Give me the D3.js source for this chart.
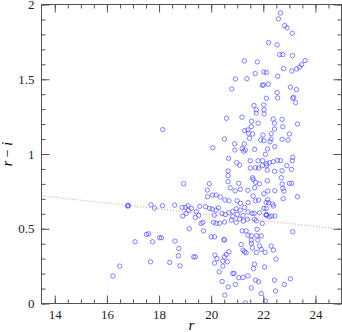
<!DOCTYPE html>
<html>
<head>
<meta charset="utf-8">
<script src="https://cdn.jsdelivr.net/npm/d3@7"></script>
<style>
body { margin: 0; background: #fff; }
svg { display: block; }
svg text { font-family: "Liberation Serif", "DejaVu Serif", serif; }
</style>
</head>
<body>
<svg id="chart" width="342" height="332"></svg>
<script>
// tick values
var xMajor = [14, 16, 18, 20, 22, 24];
var yMajor = [0, 0.5, 1, 1.5, 2];

// dotted fit line, [r, r-i] at the two ends
var fitLine = [[13.5, 0.72], [25, 0.496]];

// stars, [r, r-i]
var brightStars = [
  [16.81,0.654],[16.82,0.656],[16.80,0.652],
  [17.69,0.660],[17.83,0.638],[18.13,0.654],[17.52,0.462],[17.60,0.466],[17.08,0.413],
  [17.75,0.413],[18.02,0.440],[18.09,0.440],[17.67,0.279],[16.49,0.250],[16.23,0.185],
  [18.14,1.163],[18.41,0.275],[18.60,0.658],[18.61,0.417],[18.76,0.368],[18.80,0.252],
  [18.74,0.319]
];

var redStars = [
  [22.66,1.944],[22.58,1.904],[22.82,1.859],[22.91,1.844],[23.11,1.808],[22.20,1.745],
  [22.53,1.730],[22.63,1.665],[22.75,1.665],[23.12,1.658],[21.27,1.623],[21.77,1.616],
  [23.60,1.625],[23.47,1.598],[23.39,1.581],[23.28,1.569],[22.78,1.571],[23.09,1.556],
  [22.02,1.549],[22.12,1.545],[21.69,1.538],[22.55,1.520],[20.93,1.502],[21.37,1.504],
  [21.96,1.460],[22.01,1.462],[22.19,1.467],[20.79,1.435],[23.04,1.447],[23.27,1.431],
  [22.53,1.411],[22.12,1.373],[22.55,1.375],[23.13,1.373],[23.16,1.380],[23.24,1.344],
  [21.64,1.324],[21.73,1.295],[21.73,1.273],[22.02,1.328],[22.03,1.295],[22.03,1.268],
  [20.59,1.239],[21.18,1.246],[22.38,1.234],[22.72,1.232],[21.55,1.219],[21.80,1.206],
  [22.43,1.206],[23.31,1.201],[22.75,1.183],[21.54,1.183],[21.28,1.156],[21.41,1.161],
  [22.43,1.167],[21.43,1.139],[21.59,1.134],[22.30,1.136],[21.99,1.127],[23.00,1.134],
  [21.47,1.105],[21.90,1.094],[22.02,1.089],[22.26,1.082],[22.30,1.100],[22.72,1.098],
  [22.95,1.094],[20.51,1.100],[20.90,1.069],[21.27,1.067],[22.44,1.049],[21.19,1.036],
  [21.24,1.018],[21.31,1.027],[20.91,1.027],[21.67,1.031],[22.16,1.034],[22.08,0.998],
  [20.06,1.042]
];

var midStars = [
  [20.67,0.971],[21.50,0.955],[20.98,0.942],[21.09,0.926],[21.80,0.955],[21.97,0.955],
  [22.12,0.935],[22.24,0.942],[22.38,0.948],[22.54,0.958],[22.66,0.956],[23.13,0.978],
  [23.11,0.955],[22.90,0.922],[22.72,0.888],[23.08,0.897],[22.43,0.884],[21.50,0.906],
  [21.70,0.908],[21.82,0.906],[21.96,0.922],[22.13,0.922],[22.15,0.893],[20.65,0.886],
  [20.65,0.855],[21.59,0.841],[21.61,0.830],[21.70,0.810],[21.67,0.774],[21.85,0.801],
  [22.15,0.821],[22.44,0.754],[22.69,0.841],[22.72,0.799],[22.75,0.770],[23.00,0.804],
  [23.09,0.804],[23.31,0.714],[22.76,0.701],[21.06,0.804],[21.12,0.764],[20.65,0.815],
  [20.73,0.774],[20.92,0.754],[21.41,0.757],[21.61,0.719],[22.02,0.734],[22.17,0.694],
  [22.20,0.674],[22.36,0.665],[20.68,0.687],[20.53,0.692],[21.00,0.687],[21.12,0.670],
  [21.42,0.676],[21.82,0.692],[21.70,0.687],[22.11,0.676],[22.17,0.752],[22.79,0.752],
  [18.94,0.801],[19.93,0.801],[19.85,0.759],[19.86,0.714],[20.05,0.725],[20.19,0.725],
  [20.35,0.712]
];

var coreStars = [
  [18.89,0.643],[19.01,0.643],[19.11,0.654],[18.91,0.585],[19.04,0.603],[19.13,0.623],
  [19.24,0.636],[19.43,0.614],[19.56,0.650],[19.52,0.589],[19.79,0.647],[19.94,0.636],
  [20.04,0.630],[20.19,0.625],[20.12,0.591],[20.28,0.640],[20.42,0.603],[20.54,0.596],
  [20.68,0.607],[20.83,0.616],[20.96,0.634],[21.00,0.596],[21.11,0.625],[21.28,0.643],
  [21.41,0.612],[20.83,0.580],[21.22,0.589],[19.61,0.536],[19.68,0.543],[19.16,0.500],
  [19.71,0.486],[20.00,0.446],[20.13,0.446],[20.09,0.543],[20.19,0.536],[20.32,0.536],
  [19.39,0.576],[20.49,0.429],[20.51,0.545],[20.78,0.558],[20.96,0.543],[21.09,0.565],
  [21.24,0.551],[21.39,0.563],[21.19,0.486],[21.34,0.486],[21.41,0.457],
  [22.02,0.636],[22.11,0.636],[22.10,0.593],[22.13,0.595],[22.12,0.590],[21.57,0.603],
  [21.65,0.603],[21.85,0.607],[22.45,0.585],[22.23,0.580],[22.31,0.585],[21.73,0.553],
  [21.66,0.563],[21.96,0.536],[23.13,0.480],[21.54,0.453],[21.75,0.453],[21.92,0.453],
  [21.76,0.496],[22.39,0.652]
];

var blueStars = [
  [21.15,0.395],[21.22,0.357],[21.28,0.346],[21.34,0.339],[19.33,0.312],[19.39,0.312],
  [20.14,0.324],[20.22,0.301],[20.31,0.212],[20.13,0.270],[20.45,0.283],[20.62,0.279],
  [20.45,0.250],[20.42,0.147],[20.52,0.056],[20.65,0.111],[20.83,0.201],[20.88,0.201],
  [21.06,0.173],[21.22,0.174],[21.41,0.185],[21.31,0.004],[20.93,0.127],[20.68,0.346],
  [20.58,0.328],[20.51,0.312],[20.51,0.424],
  [21.79,0.424],[21.54,0.424],[21.54,0.402],[21.58,0.372],[21.86,0.384],[21.73,0.342],
  [22.07,0.342],[21.92,0.362],[22.30,0.384],[22.39,0.357],[22.49,0.297],[21.66,0.263],
  [21.62,0.234],[22.05,0.245],[21.70,0.156],[21.82,0.145],[22.43,0.156],[23.04,0.165],
  [22.81,0.127],[21.54,0.104],[22.47,0.084],[21.92,0.067],[22.08,0.017]
];

var stars = brightStars.concat(redStars, midStars, coreStars, blueStars);

var margin = {top: 4.5, right: 0.5, bottom: 28.5, left: 41.5};
var W = 342, H = 332;
var w = W - margin.left - margin.right;
var h = H - margin.top - margin.bottom;

var svg = d3.select("#chart");
var g = svg.append("g")
    .attr("transform", "translate(" + margin.left + "," + margin.top + ")");

var x = d3.scaleLinear().domain([13.49, 25]).range([0, w]);
var y = d3.scaleLinear().domain([0, 2]).range([h, 0]);

g.append("clipPath").attr("id", "clip")
  .append("rect").attr("width", w).attr("height", h);

var fontFam = "Liberation Serif, DejaVu Serif, serif";
var axisCol = "#555";

//minor ticks
var xMinor = d3.range(14, 25.01, 0.5);
var yMinor = d3.range(0, 2.001, 0.1);

function styleAxis(sel){
    sel.attr("font-family", null);
    sel.select(".domain").remove();
    sel.selectAll("line").attr("stroke", axisCol);
    sel.selectAll("text")
        .style("font-family", fontFam)
        .style("font-size", "13px")
        .attr("fill", "#222");
}

g.append("g").attr("transform", "translate(0," + h + ")")
    .call(d3.axisBottom(x).tickValues(xMinor).tickSize(-4).tickSizeOuter(0).tickFormat(""))
    .call(styleAxis);
g.append("g").attr("transform", "translate(0," + h + ")")
    .call(d3.axisBottom(x).tickValues(xMajor).tickSize(-8).tickSizeOuter(0).tickPadding(6).tickFormat(d3.format("d")))
    .call(styleAxis);
g.append("g")
    .call(d3.axisTop(x).tickValues(xMinor).tickSize(-4).tickSizeOuter(0).tickFormat(""))
    .call(styleAxis);
g.append("g")
    .call(d3.axisTop(x).tickValues(xMajor).tickSize(-8).tickSizeOuter(0).tickFormat(""))
    .call(styleAxis);

g.append("g")
    .call(d3.axisLeft(y).tickValues(yMinor).tickSize(-4).tickSizeOuter(0).tickFormat(""))
    .call(styleAxis);
g.append("g")
    .call(d3.axisLeft(y).tickValues(yMajor).tickSize(-8).tickSizeOuter(0).tickPadding(7).tickFormat(d3.format("")))
    .call(styleAxis);
g.append("g").attr("transform", "translate(" + w + ",0)")
    .call(d3.axisRight(y).tickValues(yMinor).tickSize(-4).tickSizeOuter(0).tickFormat(""))
    .call(styleAxis);
g.append("g").attr("transform", "translate(" + w + ",0)")
    .call(d3.axisRight(y).tickValues(yMajor).tickSize(-8).tickSizeOuter(0).tickFormat(""))
    .call(styleAxis);

// frame
g.append("rect")
    .attr("width", w).attr("height", h)
    .attr("fill", "none")
    .attr("stroke", axisCol)
    .attr("stroke-width", 1);

// fit line
g.append("path")
    .datum(fitLine)
    .attr("clip-path", "url(#clip)")
    .attr("fill", "none")
    .attr("stroke", "#ff7070")
    .attr("stroke-width", 0.8)
    .attr("stroke-dasharray", "1,2")
    .attr("d", d3.line().x(function(d){return x(d[0]);}).y(function(d){return y(d[1]);}));

// points
g.append("g").attr("clip-path", "url(#clip)")
    .selectAll("circle")
    .data(stars)
    .enter()
    .append("circle")
    .attr("cx", function(d){return x(d[0]);})
    .attr("cy", function(d){return y(d[1]);})
    .attr("r", 2.2)
    .attr("fill", "none")
    .attr("stroke", "#4d4dff")
    .attr("stroke-width", 0.7);

// axis titles
svg.append("text")
    .attr("x", margin.left + w / 2)
    .attr("y", 330)
    .attr("text-anchor", "middle")
    .style("font-style", "italic")
    .style("font-size", "15px")
    .text("r");

var yt = svg.append("text")
    .attr("transform", "translate(12," + (margin.top + h / 2) + ") rotate(-90)")
    .attr("text-anchor", "middle")
    .style("font-size", "14px");
yt.append("tspan").style("font-style", "italic").text("r");
yt.append("tspan").text(" \u2212 ");
yt.append("tspan").style("font-style", "italic").text("i");
</script>
</body>
</html>
